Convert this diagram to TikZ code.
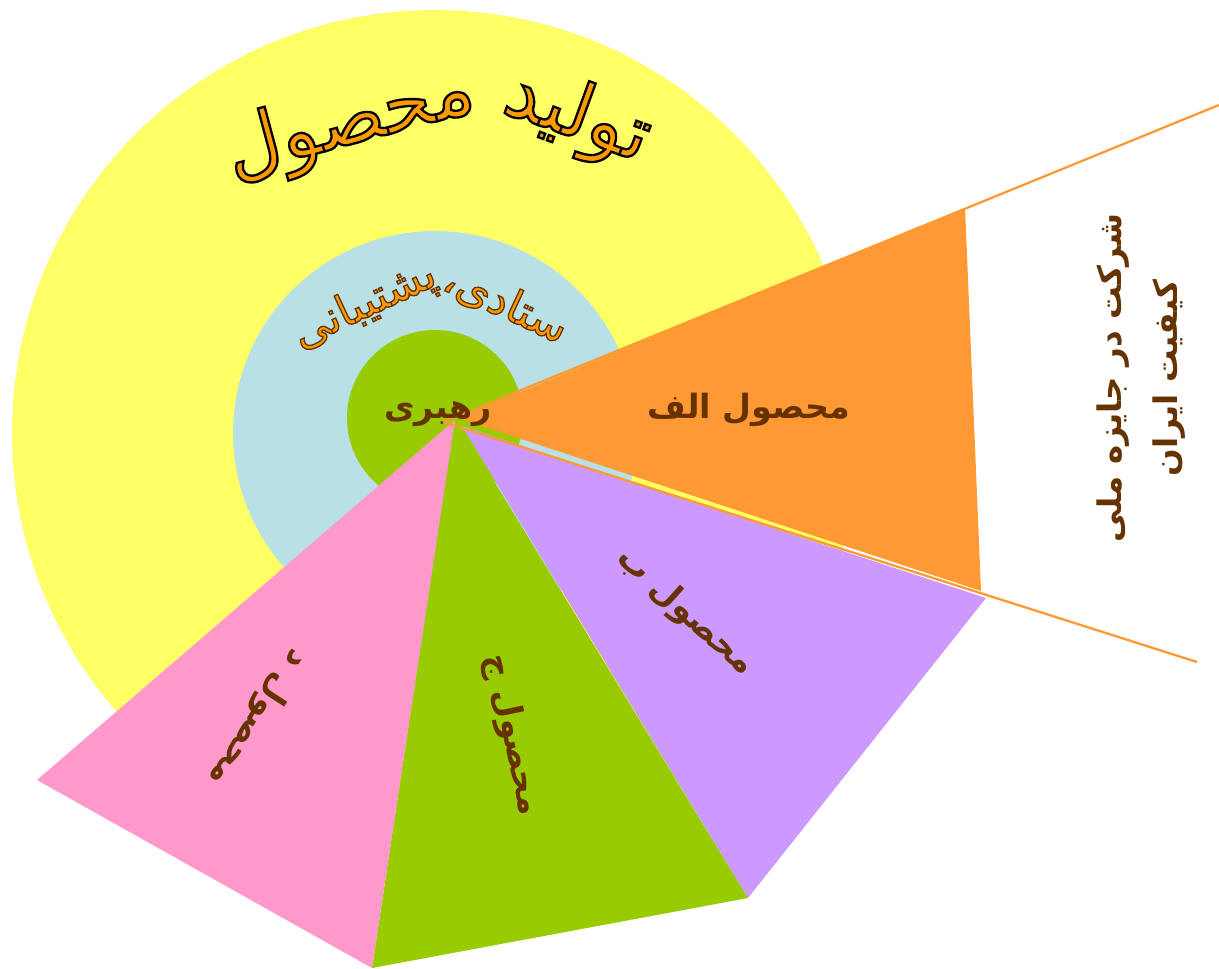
\documentclass[tikz,border=0pt]{standalone}
\usepackage{fontspec}
\usepackage{xcolor}
\usetikzlibrary{positioning}
\newfontfamily\arabicfont[Script=Arabic]{DejaVu Sans}
\newfontfamily\outlinefont[Script=Arabic, FakeBold=3]{DejaVu Sans}
\TeXXeTstate=1
\newcommand{\rtl}[1]{\beginR#1\endR}
% stroke colour for the outlined titles
\newcommand{\strokeblack}{\special{pdf:literal direct 0 0 0 RG}}
\newcommand{\strokebrown}{\special{pdf:literal direct 0.4 0.2 0 RG}}

\definecolor{ringyellow}{HTML}{FFFF66}
\definecolor{ringblue}{HTML}{B9E0E4}
\definecolor{leafgreen}{HTML}{99CC00}
\definecolor{prodorange}{HTML}{FF9933}
\definecolor{prodpurple}{HTML}{CC99FF}
\definecolor{prodpink}{HTML}{FF99CC}
\definecolor{labelbrown}{HTML}{663300}
\definecolor{titleorange}{HTML}{FF9900}

\begin{document}
\begin{tikzpicture}[
        x=0.02cm, y=-0.02cm,
        inner sep=0pt,
        prodlabel/.style={font=\arabicfont\bfseries\fontsize{19}{23}\selectfont, text=labelbrown},
        ringtitle/.style={font=\outlinefont\fontsize{44}{50}\selectfont, text=titleorange},
        ringsub/.style={font=\outlinefont\fontsize{25}{30}\selectfont, text=titleorange},
        awardlabel/.style={font=\arabicfont\bfseries\fontsize{18.5}{32}\selectfont, text=labelbrown, align=center},
        wedgeline/.style={draw=prodorange, line width=1.3pt}
    ]
        \useasboundingbox (0,0) rectangle (1219,969);

        % Rings
        \coordinate (core) at (435,433);
        \fill[ringyellow] (core) circle[radius=8.46cm];
        \fill[ringblue] (core) circle[radius=4.04cm];
        \fill[leafgreen] (435,418) circle[radius=1.76cm];

        % Ring titles
        \node[ringtitle, rotate=-20] (tolid) at (577,118) {\strokeblack\rtl{تولید}};
        \node[ringtitle, rotate=15] (mahsul) at (350,124) {\strokeblack\rtl{محصول}};
        \node[ringsub, rotate=-25] (setadi) at (506,304) {\strokebrown\rtl{ستادی،}};
        \node[ringsub, rotate=25] (poshtibani) at (365,306) {\strokebrown\rtl{پشتیبانی}};

        % Product corners
        \coordinate (apexA) at (458,418);
        \coordinate (apexB) at (462,426);
        \coordinate (apexC) at (455,417);
        \coordinate (apexD) at (455,420);
        \coordinate (topA) at (965,208);
        \coordinate (botA) at (981,591);
        \coordinate (tipB) at (986,598);
        \coordinate (tipBC) at (748,898);
        \coordinate (tipCD) at (372,968);
        \coordinate (tipD) at (37,780);

        % Products
        \fill[prodorange] (apexA) -- (topA) -- (botA) -- cycle;
        \fill[prodpurple] (apexB) -- (tipB) -- (tipBC) -- cycle;
        \fill[leafgreen] (apexC) -- (tipBC) -- (tipCD) -- cycle;
        \fill[prodpink] (apexD) -- (tipCD) -- (tipD) -- cycle;

        % Award wedge
        \coordinate (wedgeApex) at (443,422);
        \coordinate (wedgeTop) at (1219,105);
        \coordinate (wedgeBot) at (1197,662);
        \draw[wedgeline] (wedgeApex) -- (wedgeTop);
        \draw[wedgeline] (wedgeApex) -- (wedgeBot);

        % Labels
        \node[prodlabel] (rahbari) at (438,414) {\rtl{رهبری}};
        \node[prodlabel] (prodA) at (749,410) {\rtl{محصول الف}};
        \node[prodlabel, rotate=-42] (prodB) at (685,612) {\rtl{محصول ب}};
        \node[prodlabel, rotate=-78] (prodC) at (512,735) {\rtl{محصول ج}};
        \node[prodlabel, rotate=-123] (prodD) at (258,718) {\rtl{محصول د}};
        \node[awardlabel, rotate=90] (award) at (1141,378) {\rtl{شرکت در جایزه ملی}\\\rtl{کیفیت ایران}};
    \end{tikzpicture}
\end{document}
